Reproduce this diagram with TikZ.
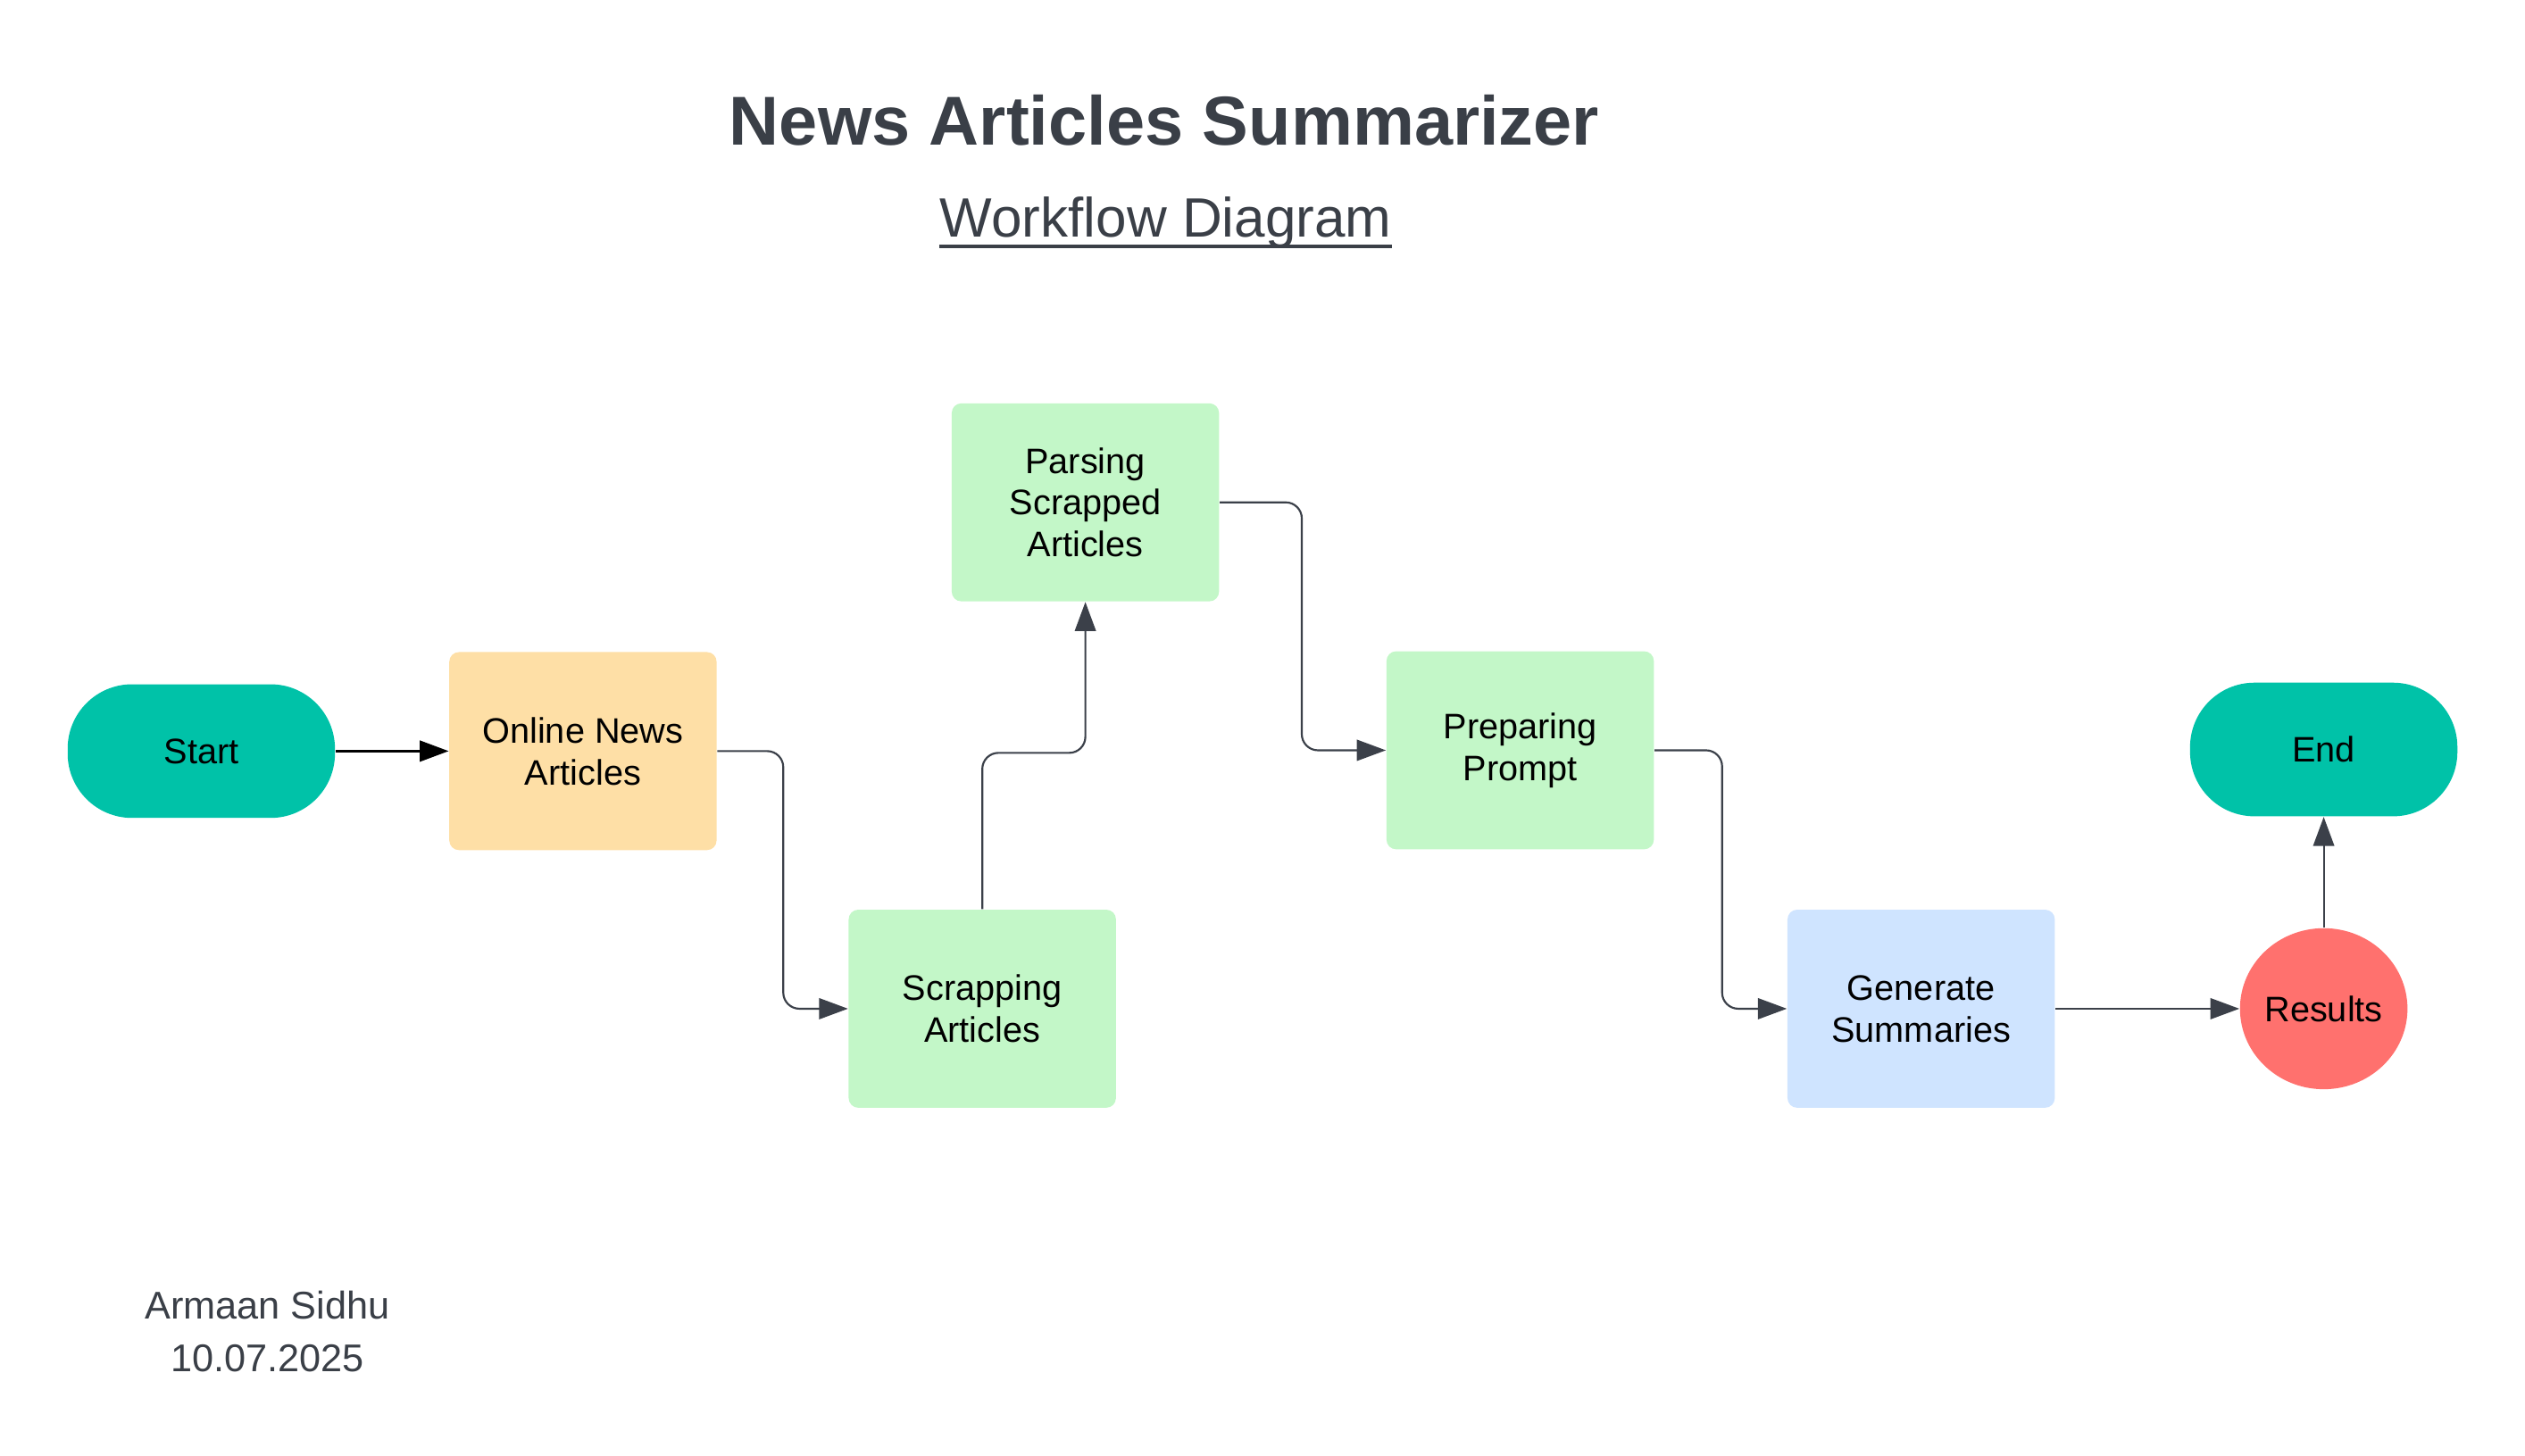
\documentclass[tikz,border=0pt]{standalone}
\usepackage{fontspec}
\setmainfont{Liberation Sans}
\usetikzlibrary{arrows.meta,shapes.geometric}

\definecolor{pillteal}{RGB}{0,194,168}
\definecolor{boxorange}{RGB}{254,223,166}
\definecolor{boxgreen}{RGB}{195,247,200}
\definecolor{boxblue}{RGB}{207,228,255}
\definecolor{resred}{RGB}{255,113,110}
\definecolor{linegrey}{RGB}{59,64,73}
\definecolor{textdark}{RGB}{58,63,71}

\begin{document}
\begin{tikzpicture}[x=0.5pt,y=-0.5pt,
  every node/.style={font=\fontsize{11}{13}\selectfont, text=black, align=center, inner sep=0pt},
  pill/.style={fill=pillteal, minimum width=83pt, minimum height=41.5pt, rounded corners=20pt},
  stepbox/.style={minimum width=83pt, minimum height=61.5pt, rounded corners=3pt},
  conn/.style={draw=linegrey, line width=0.6pt, rounded corners=5pt,
    -{Triangle[length=9pt,width=6.5pt]}},
]
\useasboundingbox (0,0) rectangle (1568,904);

% titles
\node[anchor=base, text=textdark, font=\fontsize{21.5}{26}\selectfont\bfseries] (title) at (723,90) {News Articles Summarizer};
\node[anchor=base, text=textdark, font=\fontsize{17.2}{20}\selectfont] (sub) at (724,147) {Workflow Diagram};
\draw[textdark, line width=1pt] ([yshift=-3pt]sub.base west) -- ([yshift=-3pt]sub.base east);

% flow nodes
\node[pill] (start) at (125,466.5) {Start};
\node[stepbox, fill=boxorange] (online) at (362,466.5) {Online News\\Articles};
\node[stepbox, fill=boxgreen] (scrap) at (610,626.5) {Scrapping\\Articles};
\node[stepbox, fill=boxgreen] (parse) at (674,312) {Parsing\\Scrapped\\Articles};
\node[stepbox, fill=boxgreen] (prep) at (944,466) {Preparing\\Prompt};
\node[stepbox, fill=boxblue] (gen) at (1193,626.5) {Generate\\Summaries};
\node[ellipse, fill=resred, minimum width=52pt, minimum height=50pt] (res) at (1443,626.5) {Results};
\node[pill] (end) at (1443,465.5) {End};

% connectors
\draw[conn, draw=black, line width=0.75pt] (start.east) -- (online.west);
\draw[conn] (online.east) -- ++(41,0) |- (scrap.west);
\draw[conn] (scrap.north) -- ++(0,-97) -| (parse.south);
\draw[conn] (parse.east) -- ++(51,0) |- (prep.west);
\draw[conn] (prep.east) -- ++(42,0) |- (gen.west);
\draw[conn] (gen.east) -- (res.west);
\draw[conn] (res.north) -- (end.south);

% author
\node[text=textdark, font=\fontsize{12}{16.5}\selectfont] (author) at (166,827) {Armaan Sidhu\\10.07.2025};
\end{tikzpicture}
\end{document}
